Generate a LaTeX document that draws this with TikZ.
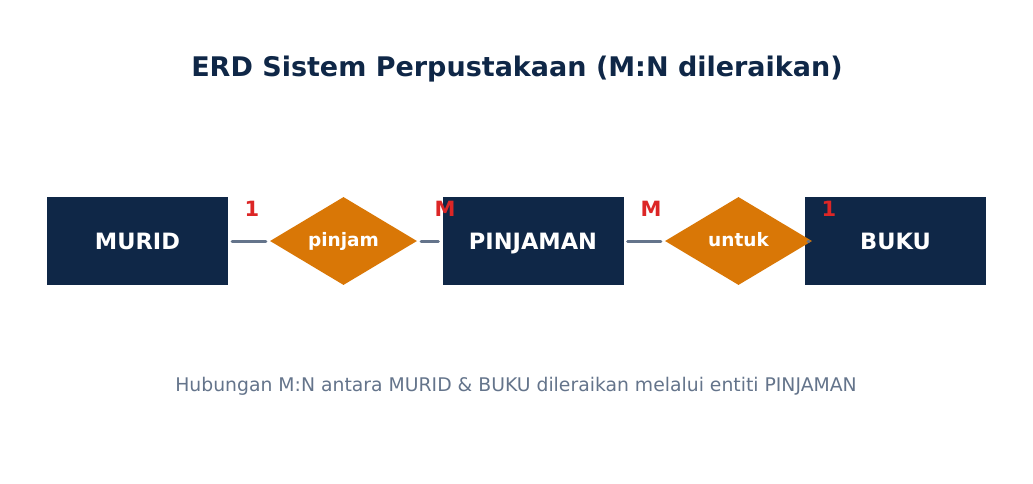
\documentclass[tikz,border=0pt]{standalone}
\usepackage{fontspec}
\setmainfont{DejaVu Sans}
\usetikzlibrary{shapes.geometric}
\definecolor{navy}{HTML}{0F2747}
\definecolor{amber}{HTML}{D97706}
\definecolor{card}{HTML}{DC2626}
\definecolor{slate}{HTML}{64748B}
\tikzset{
	entity/.style={fill=navy, text=white, font=\bfseries\fontsize{22.5}{26}\selectfont, text height=16.4pt, text depth=0pt, minimum width=181pt, minimum height=88pt, inner sep=0pt},
	relation/.style={diamond, fill=amber, text=white, font=\bfseries\fontsize{18.5}{22}\selectfont, text height=10.4pt, text depth=0pt, minimum width=147pt, minimum height=88pt, inner sep=0pt},
	link/.style={draw=slate, line width=3pt, line cap=round, shorten <=4pt, shorten >=4pt},
	cardinal/.style={text=card, font=\bfseries\fontsize{21}{25}\selectfont}
}
\begin{document}
\begin{tikzpicture}[x=1pt, y=-1pt]
	\useasboundingbox (0, 0) rectangle (1033, 483);
	\node[text=navy, font=\bfseries\fontsize{27}{32}\selectfont] (title) at (517, 69) {ERD Sistem Perpustakaan (M:N dileraikan)};
	\node[entity] (murid) at (137.5, 241) {MURID};
	\node[entity] (pinjaman) at (533, 241) {PINJAMAN};
	\node[entity] (buku) at (895.5, 241) {BUKU};
	\node[relation] (pinjam) at (343.5, 241) {pinjam};
	\node[relation] (untuk) at (738.5, 241) {untuk};
	\draw[link] (murid.east) -- (pinjam.west);
	\draw[link] (pinjam.east) -- (pinjaman.west);
	\draw[link] (pinjaman.east) -- (untuk.west);
	\draw[link] (untuk.east) -- (buku.west);
	\node[cardinal] (c1) at (252, 209) {1};
	\node[cardinal] (c2) at (445, 209) {M};
	\node[cardinal] (c3) at (651, 209) {M};
	\node[cardinal] (c4) at (829, 209) {1};
	\node[text=slate, font=\fontsize{18.8}{22}\selectfont] (note) at (516, 386) {Hubungan M:N antara MURID \& BUKU dileraikan melalui entiti PINJAMAN};
\end{tikzpicture}
\end{document}
